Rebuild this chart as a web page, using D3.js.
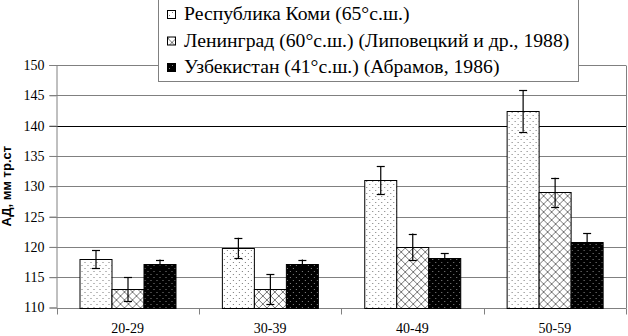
<!DOCTYPE html>
<html>
<head>
<meta charset="utf-8">
<script src="https://cdn.jsdelivr.net/npm/d3@7"></script>
<style>
  body { margin: 0; background: #fff; }
  svg { display: block; }
</style>
</head>
<body>
<div id="chart"></div>
<script>
// data
const categories = ['20-29', '30-39', '40-49', '50-59'];
const seriesNames = [
    'Республика Коми (65°с.ш.)',
    'Ленинград (60°с.ш.) (Липовецкий и др., 1988)',
    'Узбекистан (41°с.ш.) (Абрамов, 1986)'
];
const komi = [118, 119.8, 131, 142.4];
const komiErr = [1.5, 1.7, 2.3, 3.4];
const leningrad = [113, 113, 120, 129];
const leningradErr = [2, 2.5, 2.2, 2.4];
const uzbek = [117.2, 117.2, 118.2, 120.8];
const uzbekErr = [0.7, 0.7, 0.8, 1.5];
const yTicks = [110, 115, 120, 125, 130, 135, 140, 145, 150];

const values = [komi, leningrad, uzbek];
const errs = [komiErr, leningradErr, uzbekErr];
const patterns = ['p-komi', 'p-len', 'p-uzb'];

const width = 628;
const height = 336;
const margin = {top: 65, right: 2, bottom: 28, left: 56.5};
const serif = "'Liberation Serif'";
const sans = "'Liberation Sans'";

const svg = d3.select('#chart')
    .append('svg')
        .attr('width', width)
        .attr('height', height);

// fill patterns
const defs = svg.append('defs');
const pk = defs.append('pattern')
    .attr('id', 'p-komi')
    .attr('patternUnits', 'userSpaceOnUse')
    .attr('width', 6).attr('height', 6);
pk.append('rect').attr('width', 6).attr('height', 6).attr('fill', '#fff');
pk.append('rect').attr('x', 1).attr('y', 1).attr('width', 1).attr('height', 1).attr('fill', '#777');
pk.append('rect').attr('x', 4).attr('y', 4).attr('width', 1).attr('height', 1).attr('fill', '#777');

const pl = defs.append('pattern')
    .attr('id', 'p-len')
    .attr('patternUnits', 'userSpaceOnUse')
    .attr('width', 8).attr('height', 8);
pl.append('rect').attr('width', 8).attr('height', 8).attr('fill', '#fff');
pl.append('path')
    .attr('d', 'M0,0L8,8M8,0L0,8M-1,7L1,9M7,-1L9,1M-1,1L1,-1M7,9L9,7')
    .attr('stroke', '#777')
    .attr('stroke-width', 1)
    .attr('fill', 'none');

const pu = defs.append('pattern')
    .attr('id', 'p-uzb')
    .attr('patternUnits', 'userSpaceOnUse')
    .attr('width', 6).attr('height', 6);
pu.append('rect').attr('width', 6).attr('height', 6).attr('fill', '#000');
pu.append('rect').attr('x', 1).attr('y', 1).attr('width', 1).attr('height', 1).attr('fill', '#888');
pu.append('rect').attr('x', 4).attr('y', 4).attr('width', 1).attr('height', 1).attr('fill', '#888');

// scales
const x0 = d3.scaleBand()
    .domain(categories)
    .range([margin.left, width - margin.right]);
const x1 = d3.scaleBand()
    .domain([0, 1, 2])
    .range([0, x0.bandwidth()])
    .paddingInner(0)
    .paddingOuter(0.72);
const y = d3.scaleLinear()
    .domain([110, 150])
    .range([height - margin.bottom - 0.5, margin.top]);

// grid lines
svg.append('g')
    .selectAll('line')
    .data(yTicks.slice(1))
    .join('line')
        .attr('x1', margin.left - 7)
        .attr('x2', width - margin.right)
        .attr('y1', d => Math.round(y(d)) + 0.5)
        .attr('y2', d => Math.round(y(d)) + 0.5)
        .attr('stroke', d => d === 140 ? '#000' : '#808080')
        .attr('stroke-width', 1);

// right border of plot
svg.append('line')
    .attr('x1', width - margin.right + 0.5)
    .attr('x2', width - margin.right + 0.5)
    .attr('y1', Math.round(y(150)) + 0.5)
    .attr('y2', Math.round(y(110)) + 0.5)
    .attr('stroke', '#808080');

// y axis
const yAxis = g => g
    .attr('transform', `translate(${margin.left},0)`)
    .call(d3.axisLeft(y).tickValues(yTicks).tickSize(7).tickPadding(5))
    .call(g => g.select('.domain').attr('stroke', '#808080'))
    .call(g => g.selectAll('.tick line').attr('stroke', '#808080'))
    .call(g => g.selectAll('.tick text')
        .style('font-family', serif)
        .style('font-size', '14px')
        .attr('fill', '#000'));
svg.append('g').call(yAxis);

// x axis with ticks on category boundaries
const xg = svg.append('g')
    .attr('transform', `translate(0,${Math.round(y(110)) + 0.5})`);
xg.append('line')
    .attr('x1', margin.left)
    .attr('x2', width - margin.right)
    .attr('stroke', '#808080');
const bounds = categories.map(c => x0(c)).concat([x0.range()[1]]);
xg.selectAll('.bt')
    .data(bounds)
    .join('line')
        .attr('class', 'bt')
        .attr('x1', d => Math.round(d) + 0.5)
        .attr('x2', d => Math.round(d) + 0.5)
        .attr('y1', 0)
        .attr('y2', 6)
        .attr('stroke', '#808080');
xg.selectAll('text')
    .data(categories)
    .join('text')
        .attr('x', d => x0(d) + x0.bandwidth() / 2)
        .attr('y', 24)
        .attr('text-anchor', 'middle')
        .style('font-family', serif)
        .style('font-size', '14px')
        .text(d => d);

// bars
const groups = svg.append('g')
    .selectAll('g')
    .data(categories)
    .join('g')
        .attr('transform', d => `translate(${x0(d)},0)`);

groups.selectAll('rect')
    .data((c, ci) => values.map((s, si) => ({si, v: s[ci], e: errs[si][ci]})))
    .join('rect')
        .attr('x', d => Math.round(x1(d.si)) + 0.5)
        .attr('y', d => Math.round(y(d.v)) + 0.5)
        .attr('width', Math.round(x1.bandwidth()))
        .attr('height', d => Math.round(y(110)) - Math.round(y(d.v)))
        .attr('fill', d => `url(#${patterns[d.si]})`)
        .attr('stroke', '#000')
        .attr('stroke-width', 1);

// error bars
const eb = groups.selectAll('g.err')
    .data((c, ci) => values.map((s, si) => ({si, v: s[ci], e: errs[si][ci]})))
    .join('g')
        .attr('class', 'err')
        .attr('stroke', '#000')
        .attr('stroke-width', 1.2);
eb.append('line')
    .attr('x1', d => Math.round(x1(d.si) + x1.bandwidth() / 2) + 0.5)
    .attr('x2', d => Math.round(x1(d.si) + x1.bandwidth() / 2) + 0.5)
    .attr('y1', d => y(d.v + d.e))
    .attr('y2', d => y(d.v - d.e));
[1, -1].forEach(sg => {
    eb.append('line')
        .attr('x1', d => Math.round(x1(d.si) + x1.bandwidth() / 2) + 0.5 - 4)
        .attr('x2', d => Math.round(x1(d.si) + x1.bandwidth() / 2) + 0.5 + 4)
        .attr('y1', d => Math.round(y(d.v + sg * d.e)) + 0.5)
        .attr('y2', d => Math.round(y(d.v + sg * d.e)) + 0.5);
});

// y title
svg.append('text')
    .attr('transform', `translate(11,${(y(110) + y(150)) / 2}) rotate(-90)`)
    .attr('text-anchor', 'middle')
    .style('font-family', sans)
    .style('font-size', '13px')
    .style('font-weight', 'bold')
    .text('АД, мм тр.ст');

// legend
const legend = svg.append('g');
legend.append('rect')
    .attr('x', 158.5)
    .attr('y', -1.5)
    .attr('width', 420)
    .attr('height', 83)
    .attr('fill', '#fff')
    .attr('stroke', '#808080');
const li = legend.selectAll('g.item')
    .data(seriesNames)
    .join('g')
        .attr('class', 'item')
        .attr('transform', (d, i) => `translate(0,${20 + i * 26.5})`);
li.append('rect')
    .attr('x', 167.5)
    .attr('y', -9.5)
    .attr('width', 8)
    .attr('height', 8)
    .attr('fill', (d, i) => `url(#${patterns[i]})`)
    .attr('stroke', '#000');
li.append('text')
    .attr('x', 184)
    .attr('y', 0)
    .style('font-family', serif)
    .style('font-size', '19.7px')
    .text(d => d);
</script>
</body>
</html>
